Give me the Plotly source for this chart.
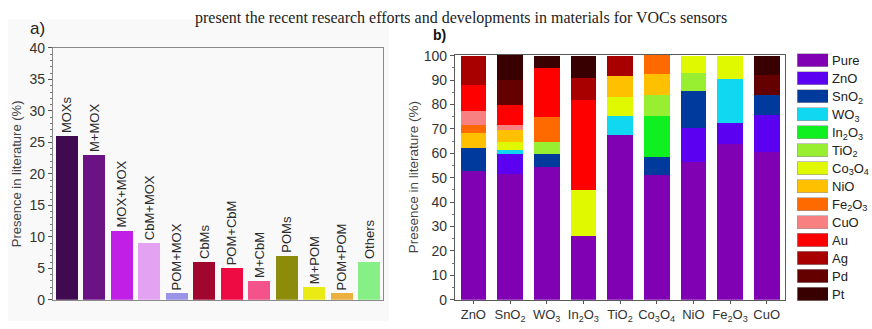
import plotly.graph_objects as go

# ---- panel a: share of each material class in the literature ----
classes = ["MOXs", "M+MOX", "MOX+MOX", "CbM+MOX", "POM+MOX", "CbMs",
           "POM+CbM", "M+CbM", "POMs", "M+POM", "POM+POM", "Others"]
class_share = [26, 23, 11, 9, 1, 6, 5, 3, 7, 2, 1, 6]
class_colors = ["#3f0a4f", "#6b1284", "#c21fe6", "#e4a2f2", "#9a93e8", "#a0062e",
                "#ee0a42", "#f4528a", "#8c8c0a", "#eaea14", "#ecb040", "#86f086"]

# ---- panel b: composition of each host oxide (stacked %) ----
hosts = ["ZnO", "SnO<sub>2</sub>", "WO<sub>3</sub>", "In<sub>2</sub>O<sub>3</sub>", "TiO<sub>2</sub>",
         "Co<sub>3</sub>O<sub>4</sub>", "NiO", "Fe<sub>2</sub>O<sub>3</sub>", "CuO"]
components = ["Pure", "ZnO", "SnO<sub>2</sub>", "WO<sub>3</sub>", "In<sub>2</sub>O<sub>3</sub>",
              "TiO<sub>2</sub>", "Co<sub>3</sub>O<sub>4</sub>", "NiO", "Fe<sub>2</sub>O<sub>3</sub>",
              "CuO", "Au", "Ag", "Pd", "Pt"]
component_colors = ["#8000b4", "#5c00f2", "#003a9c", "#10d8f0", "#10f020", "#98ee30",
                    "#e0f800", "#ffc000", "#ff6a00", "#f88080", "#ff0000", "#a80000",
                    "#640000", "#380000"]
# one row per component, one column per host oxide
pure     = [52.6, 51.6, 54.5, 26.3, 67.5, 50.9, 56.5, 63.6, 60.4]
zno      = [0,    8.1,  0,    0,    0,    0,    14.0, 8.9,  15.2]
sno2     = [9.7,  0,    5.2,  0,    0,    7.7,  15.0, 0,    8.2]
wo3      = [0,    1.7,  0,    0,    7.8,  0,    0,    18.0, 0]
in2o3    = [0,    0,    0,    0,    0,    16.7, 0,    0,    0]
tio2     = [0,    0,    4.8,  0,    0,    8.5,  7.4,  0,    0]
co3o4    = [0,    3.3,  0,    18.5, 7.8,  0,    7.1,  9.5,  0]
nio      = [6.1,  5.0,  0,    0,    8.5,  8.5,  0,    0,    0]
fe2o3    = [3.0,  0,    10.2, 0,    0,    8.2,  0,    0,    0]
cuo      = [6.1,  2.0,  0,    0,    0,    0,    0,    0,    0]
au       = [10.4, 8.1,  20.1, 37.0, 0,    0,    0,    0,    0]
ag       = [12.1, 0,    0,    9.1,  8.2,  0,    0,    0,    0]
pd       = [0,    10.0, 0,    0,    0,    0,    0,    0,    8.1]
pt       = [0,    10.4, 5.2,  9.1,  0,    0,    0,    0,    8.1]
stack = [pure, zno, sno2, wo3, in2o3, tio2, co3o4, nio, fe2o3, cuo, au, ag, pd, pt]

W, H = 872, 329
FONT = "Liberation Sans, Arial, sans-serif"

def px_x(p):
    return p / W

def px_y(p):
    return 1 - p / H

fig = go.Figure()

fig.add_trace(go.Bar(
    x=classes, y=class_share, marker=dict(color=class_colors, line=dict(width=0)),
    text=classes, textposition="outside", textangle=-90, constraintext="none",
    cliponaxis=False, textfont=dict(size=13, color="#2a2a2a", family=FONT),
    width=0.8, xaxis="x", yaxis="y", showlegend=False, hoverinfo="x+y",
))

for name, color, vals in zip(components, component_colors, stack):
    fig.add_trace(go.Bar(
        x=hosts, y=vals, name=name, marker=dict(color=color, line=dict(width=0)),
        width=0.7, xaxis="x2", yaxis="y2", showlegend=False,
    ))

# key drawn as its own small bar panel
fig.add_trace(go.Bar(
    y=components, x=[1] * len(components), orientation="h",
    marker=dict(color=component_colors, line=dict(width=0.6, color="#999999")),
    width=0.74, xaxis="x3", yaxis="y3", showlegend=False, hoverinfo="y",
))

frame_a = "#8a8a8a"
frame_b = "#5a5a5a"
tickfont = dict(size=14, color="#333333", family=FONT)

fig.update_layout(
    width=W, height=H, margin=dict(l=0, r=0, t=0, b=0),
    paper_bgcolor="white", plot_bgcolor="rgba(0,0,0,0)",
    barmode="stack", font=dict(family=FONT, color="#333333"),
    xaxis=dict(domain=[px_x(53), px_x(383)], anchor="y", range=[-0.5, 11.5],
               showline=True, linecolor=frame_a, linewidth=1.2, mirror=True,
               ticks="", showticklabels=False, showgrid=False, zeroline=False),
    yaxis=dict(domain=[px_y(306.7), px_y(42)], anchor="x", range=[0, 40],
               dtick=5, ticks="outside", ticklen=4, tickcolor="#555555",
               minor=dict(dtick=1, ticks="outside", ticklen=2, tickcolor="#777777"),
               showline=True, linecolor=frame_a, linewidth=1.2, mirror=True,
               showgrid=False, zeroline=False, tickfont=tickfont,
               title=dict(text="Presence in literature (%)", standoff=4,
                          font=dict(size=13, color="#444444", family=FONT))),
    xaxis2=dict(domain=[px_x(455), px_x(785)], anchor="y2", range=[-0.5, 8.5],
                showline=True, linecolor=frame_b, linewidth=1.2, mirror=True,
                ticks="outside", ticklen=3, tickcolor="#555555",
                showgrid=False, zeroline=False,
                tickfont=dict(size=13, color="#333333", family=FONT)),
    yaxis2=dict(domain=[px_y(306.7), px_y(49)], anchor="x2", range=[0, 100.4],
                dtick=10, ticks="outside", ticklen=4, tickcolor="#555555",
                minor=dict(dtick=5, ticks="outside", ticklen=2, tickcolor="#777777"),
                showline=True, linecolor=frame_b, linewidth=1.2, mirror=True,
                showgrid=False, zeroline=False, tickfont=tickfont,
                title=dict(text="Presence in literature (%)", standoff=2,
                           font=dict(size=13.5, color="#444444", family=FONT))),
    xaxis3=dict(domain=[px_x(797), px_x(828)], anchor="y3", range=[0, 1],
                visible=False),
    yaxis3=dict(domain=[px_y(310.2), px_y(45.5)], anchor="x3", side="right",
                autorange="reversed", showline=False, ticks="", showgrid=False,
                zeroline=False, ticklabelstandoff=3,
                tickfont=dict(size=13, color="#222222", family=FONT)),
    shapes=[dict(type="rect", xref="paper", yref="paper", layer="below",
                 x0=px_x(8), x1=px_x(389), y0=0, y1=px_y(12),
                 fillcolor="#f9f9f9", line=dict(width=0))],
    annotations=[
        dict(text="a)", x=px_x(28), y=px_y(22), xref="paper", yref="paper",
             xanchor="left", yanchor="middle", showarrow=False,
             font=dict(size=17, color="#222222", family=FONT)),
        dict(text="<b>b)</b>", x=px_x(431), y=px_y(28), xref="paper", yref="paper",
             xanchor="left", yanchor="middle", showarrow=False,
             font=dict(size=14, color="#111111", family=FONT)),
        dict(text="present the recent research efforts and developments in materials for VOCs sensors",
             x=px_x(194), y=1, xref="paper", yref="paper",
             xanchor="left", yanchor="top", showarrow=False, borderpad=0,
             font=dict(size=16, color="#222222", family="Liberation Serif, Times New Roman, serif")),
    ],
)

fig.write_html("out.html")
